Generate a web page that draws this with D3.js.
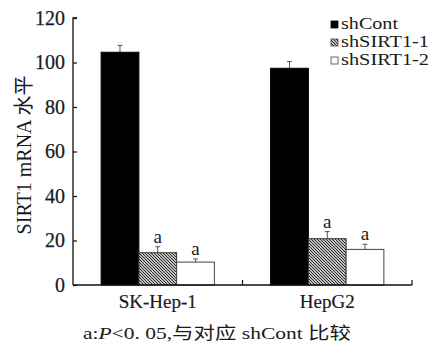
<!DOCTYPE html>
<html><head><meta charset="utf-8">
<script src="https://cdn.jsdelivr.net/npm/d3@7"></script>
<style>body{margin:0;background:#fff}svg{display:block}
svg text{font-family:"Liberation Serif","Times New Roman","DejaVu Serif","Noto Sans CJK SC",serif !important;}
</style>
</head><body>
<svg id="c" width="435" height="345"></svg>
<script>
const categories = ["SK-Hep-1", "HepG2"];
const series = ["shCont", "shSIRT1-1", "shSIRT1-2"];
const means = {
  "shCont":    [104.6, 97.4],
  "shSIRT1-1": [14.5, 20.8],
  "shSIRT1-2": [10.3, 16.0]
};
const errTops = {
  "shCont":    [107.7, 100.4],
  "shSIRT1-1": [17.2, 24.0],
  "shSIRT1-2": [11.7, 18.3]
};
const sigLabels = {
  "shCont":    ["", ""],
  "shSIRT1-1": ["a", "a"],
  "shSIRT1-2": ["a", "a"]
};
const yTicks = [0, 20, 40, 60, 80, 100, 120];
const yTitle = "SIRT1 mRNA 水平";

const svg = d3.select("#c");
const L = 73, R = 412, T = 18, B = 285;
const txt = "#1a1a1a";

const defs = svg.append("defs");
const pat = defs.append("pattern").attr("id","hatch").attr("patternUnits","userSpaceOnUse")
  .attr("width",3).attr("height",3);
pat.append("rect").attr("width",3).attr("height",3).attr("fill","#fff");
pat.append("path").attr("d","M-1,-1 L4,4 M-1,2 L1,4 M2,-1 L4,1").attr("stroke","#222").attr("stroke-width",1.1);

const fills = {"shCont":"#000","shSIRT1-1":"url(#hatch)","shSIRT1-2":"#fff"};
const strokes = {"shCont":"#000","shSIRT1-1":"#333","shSIRT1-2":"#444"};

const x0 = d3.scaleBand().domain(categories).range([L, R]).padding(0);
const x1 = d3.scaleBand().domain(series).range([0, x0.bandwidth()]).paddingInner(0).paddingOuter(0.745);
const y = d3.scaleLinear().domain([0, 120]).range([B, T]);

categories.forEach((c, i) => {
  series.forEach(s => {
    const bx = x0(c) + x1(s);
    const w = x1.bandwidth();
    const cx = bx + w/2;
    svg.append("line").attr("x1",cx).attr("x2",cx).attr("y1",y(means[s][i])).attr("y2",y(errTops[s][i]))
      .attr("stroke","#555").attr("stroke-width",1);
    svg.append("line").attr("x1",cx-2.5).attr("x2",cx+2.5).attr("y1",y(errTops[s][i])).attr("y2",y(errTops[s][i]))
      .attr("stroke","#555").attr("stroke-width",1);
    svg.append("rect").attr("x",bx).attr("y",y(means[s][i])).attr("width",w)
      .attr("height",y(0)-y(means[s][i])).attr("fill",fills[s]).attr("stroke",strokes[s]).attr("stroke-width",1);
    if (sigLabels[s][i]) {
      svg.append("text").attr("x",cx).attr("y",y(errTops[s][i]) - 4).attr("text-anchor","middle")
        .attr("font-size",19).attr("fill",txt).text(sigLabels[s][i]);
    }
  });
});

const yAxis = d3.axisLeft(y).tickValues(yTicks).tickSize(-4).tickPadding(8);
const gy = svg.append("g").attr("transform",`translate(${L},0)`).call(yAxis);
gy.select(".domain").attr("stroke","#111").attr("stroke-width",1.3).attr("d",`M4,${T}H0V${B}`);
gy.selectAll(".tick line").attr("stroke","#111").attr("stroke-width",1.2);
gy.selectAll("text").attr("font-size",20).attr("fill",txt).attr("stroke",txt).attr("stroke-width",0.25);

const xAxis = d3.axisBottom(x0).tickSize(0).tickPadding(8);
const gx = svg.append("g").attr("transform",`translate(0,${B})`).call(xAxis);
gx.select(".domain").attr("stroke","#111").attr("stroke-width",1.3).attr("d",`M${L},0H${R}`);
gx.selectAll("text").attr("font-size",19).attr("fill",txt).attr("dy","0.8em")
  .attr("stroke",txt).attr("stroke-width",0.2);
const bounds = categories.map(c => x0(c) + x0.bandwidth());
svg.selectAll(".xt").data(bounds).enter().append("line")
  .attr("x1",d=>d).attr("x2",d=>d).attr("y1",B).attr("y2",B-5).attr("stroke","#111").attr("stroke-width",1.2);

svg.append("text").attr("transform","translate(31,155) rotate(-90)").attr("text-anchor","middle")
  .attr("font-size",20).attr("fill",txt).text(yTitle);

series.forEach((s, k) => {
  const ly = 21 + k*18;
  svg.append("rect").attr("x",331).attr("y",ly).attr("width",7).attr("height",7)
    .attr("fill",fills[s]).attr("stroke",s==="shCont"?"#000":"#444").attr("stroke-width",0.8);
  svg.append("text").attr("x",341).attr("y",ly+7.5).attr("font-size",16.5)
    .attr("fill",txt).attr("textLength", s==="shCont" ? 57 : 88).attr("lengthAdjust","spacingAndGlyphs").text(s);
});

const cap = svg.append("text").attr("x",83).attr("y",339)
  .attr("font-size",17).attr("fill",txt).attr("textLength",268).attr("lengthAdjust","spacingAndGlyphs");
cap.append("tspan").text("a:");
cap.append("tspan").attr("font-style","italic").text("P");
cap.append("tspan").text("<0. 05,与对应 shCont 比较");
</script>
</body></html>
